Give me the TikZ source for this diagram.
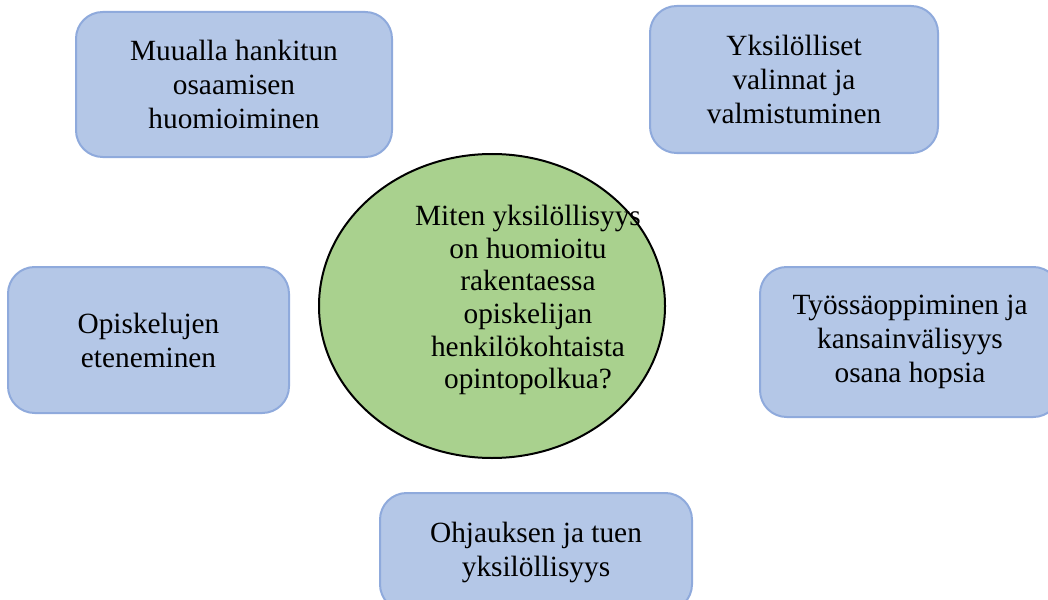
\documentclass[tikz,border=0pt]{standalone}
\usepackage{fontspec}
\setmainfont{Liberation Serif}
\usetikzlibrary{shapes.geometric}
\definecolor{boxfill}{HTML}{B4C7E7}
\definecolor{boxline}{HTML}{8FAADC}
\definecolor{ovalfill}{HTML}{A9D18E}
\tikzset{
  topic/.style={draw=boxline, fill=boxfill, line width=1.5pt, rounded corners=20pt,
    align=center, inner sep=0pt, font=\fontsize{22}{25.5}\selectfont},
  oval/.style={draw=black, fill=ovalfill, line width=1.5pt, ellipse, inner sep=0pt},
  question/.style={align=center, font=\fontsize{22}{24.5}\selectfont}
}
\begin{document}
\begin{tikzpicture}[x=0.75pt,y=-0.75pt]
\useasboundingbox (0,0) rectangle (1048,599);
\node[topic, minimum width=237pt, minimum height=108.75pt] (1) at (234,84.5) {Muualla hankitun\\osaamisen\\huomioiminen};
\node[topic, minimum width=216pt, minimum height=110.25pt] (2) at (794,79.5) {Yksilölliset\\valinnat ja\\valmistuminen};
\node[topic, minimum width=210.75pt, minimum height=109.5pt] (3) at (148.5,340) {Opiskelujen\\eteneminen};
\node[topic, minimum width=225pt, minimum height=112.5pt] (4) at (910,342) {Työssäoppiminen ja\\kansainvälisyys\\osana hopsia};
\node[topic, minimum width=234pt, minimum height=88.5pt] (5) at (536,552) {Ohjauksen ja tuen\\yksilöllisyys};

\node[oval, minimum width=259.5pt, minimum height=228pt] (6) at (492,306) {};
\node[question] (7) at (528,300) {Miten yksilöllisyys\\on huomioitu\\rakentaessa\\opiskelijan\\henkilökohtaista\\opintopolkua?};
\end{tikzpicture}
\end{document}
